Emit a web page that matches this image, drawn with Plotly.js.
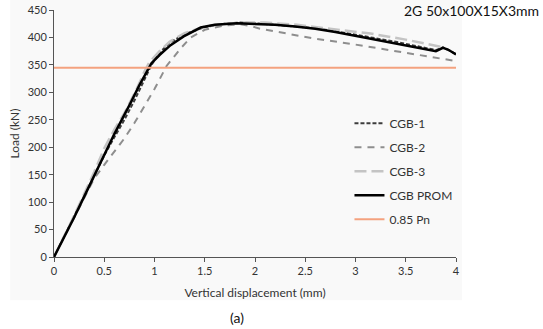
<!DOCTYPE html>
<html>
<head>
<meta charset="utf-8">
<script src="https://cdn.plot.ly/plotly-3.0.1.min.js"></script>
<style>html,body{margin:0;padding:0;background:#fff;}#chart{width:543px;height:329px;}</style>
</head>
<body>
<div id="chart"></div>
<script>
// CGB-1 (dark short dashes)
const cgb1X = [0, 0.2, 0.4, 0.5, 0.6, 0.7, 0.8, 0.9, 0.97, 1.05, 1.15, 1.3, 1.5, 1.7, 1.85, 2.0, 2.3, 2.6, 3.0, 3.4, 3.8, 3.87, 4.0];
const cgb1Y = [0, 74, 150, 185, 218, 250, 285, 322, 350, 372, 390, 406, 419, 425, 427, 426, 422, 417, 405, 392, 377, 382, 370];
// CGB-2 (medium grey dashes)
const cgb2X = [0, 0.2, 0.4, 0.5, 0.6, 0.7, 0.8, 0.9, 1.0, 1.12, 1.26, 1.36, 1.5, 1.7, 1.85, 1.95, 2.05, 2.2, 2.59, 3.0, 3.5, 3.95, 4.0];
const cgb2Y = [0, 72, 143, 168, 192, 216, 244, 274, 306, 348, 380, 400, 414, 422, 424, 421, 416, 411, 398, 387, 372, 359, 357];
// CGB-3 (light grey long dashes)
const cgb3X = [0, 0.2, 0.4, 0.5, 0.6, 0.7, 0.82, 0.9, 0.95, 1.0, 1.05, 1.15, 1.3, 1.5, 1.7, 1.9, 2.1, 2.42, 2.65, 3.15, 3.5, 3.78, 3.85];
const cgb3Y = [0, 75, 155, 198, 232, 262, 305, 338, 355, 366, 375, 392, 408, 420, 425, 427, 427, 423, 418, 407, 396, 386, 383];
// CGB PROM (black solid)
const promX = [0, 0.1, 0.2, 0.3, 0.4, 0.525, 0.6, 0.76, 0.85, 0.97, 1.05, 1.16, 1.29, 1.46, 1.6, 1.82, 2.0, 2.2, 2.4, 2.6, 2.8, 3.0, 3.2, 3.4, 3.6, 3.8, 3.87, 3.92, 4.0];
const promY = [0, 35, 72, 110, 148, 198, 224, 280, 313, 353, 368, 386, 402, 418, 423, 426, 425, 423, 420, 416, 410, 403, 396, 389, 382, 375, 381, 378, 369];
// 0.85 Pn reference level
const pnX = [0, 4];
const pnY = [345, 345];

const seriesNames = ["CGB-1", "CGB-2", "CGB-3", "CGB PROM", "0.85 Pn"];
const xTicks = [0, 0.5, 1, 1.5, 2, 2.5, 3, 3.5, 4];
const xTickText = ["0", "0.5", "1", "1.5", "2", "2.5", "3", "3.5", "4"];
const yTicks = [0, 50, 100, 150, 200, 250, 300, 350, 400, 450];

const FONT = "Lato, 'Open Sans', sans-serif";

const traces = [
  {x: cgb1X, y: cgb1Y, name: seriesNames[0], mode: "lines", legendgroup: "a",
   line: {color: "#3c3c3c", width: 2, dash: "4px,2px"}},
  {x: cgb2X, y: cgb2Y, name: seriesNames[1], mode: "lines", legendgroup: "b",
   line: {color: "#8e8e8e", width: 2, dash: "7px,6px"}},
  {x: cgb3X, y: cgb3Y, name: seriesNames[2], mode: "lines", legendgroup: "c",
   line: {color: "#c4c4c4", width: 2.5, dash: "12px,5px"}},
  {x: promX, y: promY, name: seriesNames[3], mode: "lines", legendgroup: "d",
   line: {color: "#000000", width: 2.5}},
  {x: pnX, y: pnY, name: seriesNames[4], mode: "lines", legendgroup: "e",
   line: {color: "#f4a27f", width: 2}}
];

const layout = {
  width: 543, height: 329,
  margin: {l: 54, r: 87, t: 10, b: 72},
  paper_bgcolor: "#ffffff",
  plot_bgcolor: "rgba(0,0,0,0)",
  font: {family: FONT, size: 11, color: "#333333"},
  showlegend: true,
  legend: {x: 0.735, y: 0.6, xanchor: "left", yanchor: "top",
           bgcolor: "rgba(0,0,0,0)", font: {family: FONT, size: 12, color: "#333"},
           tracegroupgap: 5},
  xaxis: {range: [0, 4], tickvals: xTicks, ticktext: xTickText,
          showgrid: false, zeroline: false, showline: true, linecolor: "#555", linewidth: 1,
          ticks: "outside", ticklen: 4, tickcolor: "#555",
          tickfont: {family: FONT, size: 11, color: "#333"},
          title: {text: "Vertical displacement (mm)", font: {family: FONT, size: 12, color: "#333"}, standoff: 12}},
  yaxis: {range: [0, 450], tickvals: yTicks,
          showgrid: false, zeroline: false, showline: true, linecolor: "#555", linewidth: 1,
          ticks: "outside", ticklen: 4, tickcolor: "#555",
          tickfont: {family: FONT, size: 11, color: "#333"},
          title: {text: "Load (kN)", font: {family: FONT, size: 12, color: "#333"}, standoff: 5}},
  shapes: [
    {type: "rect", xref: "paper", yref: "paper", x0: -0.109, x1: 1.015, y0: -0.175, y1: 1.05,
     fillcolor: "#f9f9f9", line: {width: 0}, layer: "below"}
  ],
  annotations: [
    {text: "2G 50x100X15X3mm", xref: "paper", yref: "paper", x: 1.212, y: 1.0,
     xanchor: "right", yanchor: "middle", showarrow: false,
     font: {family: FONT, size: 14, color: "#111"}},
    {text: "(a)", xref: "paper", yref: "paper", x: 0.455, y: -0.245,
     xanchor: "center", yanchor: "middle", showarrow: false,
     font: {family: FONT, size: 14, color: "#111"}}
  ]
};

Plotly.newPlot("chart", traces, layout, {displayModeBar: false, staticPlot: true});
</script>
</body>
</html>
